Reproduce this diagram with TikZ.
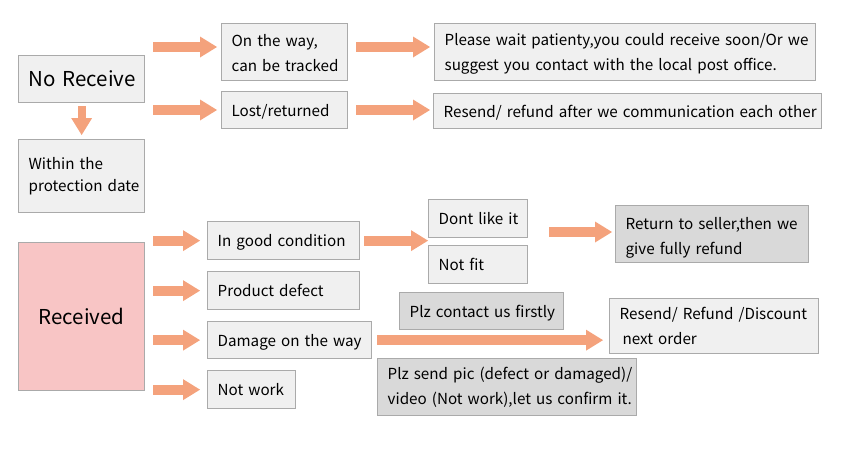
\documentclass[tikz,border=0pt]{standalone}
\usepackage{fontspec}
\setmainfont{Noto Sans CJK SC}
\usetikzlibrary{arrows.meta, positioning, calc}
\definecolor{boxfill}{RGB}{240,240,240}
\definecolor{boxdark}{RGB}{217,217,217}
\definecolor{boxline}{RGB}{170,170,170}
\definecolor{softpink}{RGB}{248,197,197}
\definecolor{salmon}{RGB}{244,162,124}

\begin{document}
\begin{tikzpicture}[x=1pt, y=-1pt,
  card/.style={draw=boxline, fill=boxfill, line width=1.3pt, anchor=north west,
    inner xsep=10pt, inner ysep=0pt, align=left, font=\fontsize{15.2pt}{25pt}\selectfont},
  oneline/.style={text height=14pt, text depth=1.5pt},
  darkcard/.style={card, fill=boxdark},
  bigcard/.style={card, align=center, text height=17pt, text depth=2pt,
    font=\fontsize{20.5pt}{25pt}\selectfont},
  fat/.style={salmon, line width=10pt, -{Triangle[length=17pt, width=21pt, line width=0pt]}}]
  \useasboundingbox (0,0) rectangle (845,455);

  % not received
  \node[bigcard, text width=106pt, minimum height=47pt] (norecv) at (18,55) {\mbox{No Receive}};
  \node[card, text width=106pt, minimum height=73pt, font=\fontsize{15.2pt}{22pt}\selectfont] (within) at (18,139) {\mbox{Within the}\\\mbox{protection date}};
  \node[card, text width=106pt, minimum height=57pt] (onway) at (221,23) {\mbox{\rule{0pt}{14pt}On the way,}\\\mbox{can be tracked}};
  \node[card, oneline, text width=106pt, minimum height=37pt] (lost) at (221,91) {\mbox{Lost/returned}};
  \node[card, text width=361pt, minimum height=57pt] (wait) at (434,23) {\mbox{\rule{0pt}{16pt}Please wait patienty,you could receive soon/Or we}\\\mbox{suggest you contact with the local post office.}};
  \node[card, oneline, text width=368pt, minimum height=35pt] (resend) at (433,93) {\mbox{Resend/ refund after we communication each other}};

  % received
  \node[bigcard, fill=softpink, text width=106pt, minimum height=148pt] (recv) at (18,242) {\mbox{Received}};
  \node[card, oneline, text width=132pt, minimum height=38pt] (good) at (207,221) {\mbox{In good condition}};
  \node[card, oneline, text width=132pt, minimum height=38pt] (defect) at (207,271) {\mbox{Product defect}};
  \node[card, oneline, text width=144pt, minimum height=37pt] (damage) at (207,321) {\mbox{Damage on the way}};
  \node[card, oneline, text width=68pt, minimum height=38pt] (notwork) at (207,370) {\mbox{Not work}};
  \node[card, oneline, text width=79pt, minimum height=38pt] (dislike) at (428,199) {\mbox{Dont like it}};
  \node[card, oneline, text width=79pt, minimum height=38pt] (notfit) at (428,245) {\mbox{Not fit}};
  \node[darkcard, text width=173pt, minimum height=57pt] (refund) at (615,205) {\mbox{\rule{0pt}{19pt}Return to seller,then we}\\\mbox{give fully refund}};
  \node[darkcard, oneline, text width=144pt, minimum height=37pt] (contact) at (399,292) {\mbox{Plz contact us firstly}};
  \node[card, text width=189pt, minimum height=55pt] (discount) at (609,298) {\mbox{Resend/ Refund /Discount}\\\mbox{\hspace*{3pt}next order}};
  \node[darkcard, text width=239pt, minimum height=57pt] (sendpic) at (377,358) {\mbox{Plz send pic (defect or damaged)/}\\\mbox{video (Not work),let us confirm it.}};

  % arrows
  \coordinate (lcol) at (153,0);
  \coordinate (a1) at (153,47);
  \coordinate (a2) at (153,110);
  \coordinate (a3) at (549,232);
  \draw[fat, shorten >=4pt] (a1) -- (a1 -| onway.west);
  \draw[fat, shorten >=4pt] (a2) -- (a2 -| lost.west);
  \draw[fat, shorten <=8pt, shorten >=4pt] (a1 -| onway.east) -- (a1 -| wait.west);
  \draw[fat, shorten <=8pt, shorten >=3pt] (a2 -| lost.east) -- (a2 -| resend.west);
  \draw[fat, line width=8pt, shorten <=3pt, shorten >=4pt] (norecv.south) -- (within.north);
  \foreach \n in {good, defect, damage, notwork}
    \draw[fat, shorten >=7pt] (\n.west -| lcol) -- (\n.west);
  \draw[fat, shorten <=4pt] (good.east) -- (good.east -| dislike.west);
  \draw[fat, shorten >=3pt] (a3) -- (a3 -| refund.west);
  \draw[fat, shorten <=5pt, shorten >=6pt] (damage.east) -- (damage.east -| discount.west);
\end{tikzpicture}
\end{document}
